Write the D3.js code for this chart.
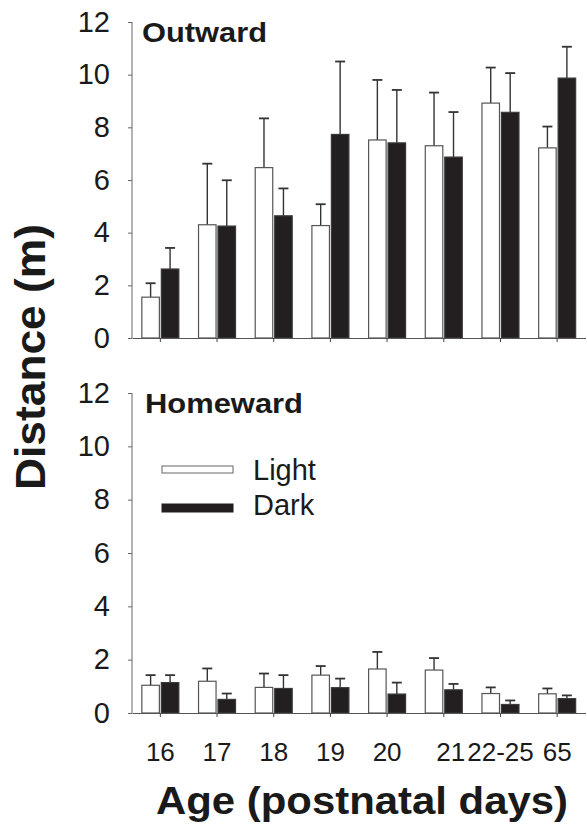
<!DOCTYPE html>
<html>
<head>
<meta charset="utf-8">
<script src="https://cdn.jsdelivr.net/npm/d3@7"></script>
<style>
	body { margin: 0; background: #fff; }
	svg { display: block; font-family: Arial, "Liberation Sans", sans-serif; }
</style>
</head>
<body>
<svg width="587" height="826"></svg>
<script>
var ages = ["16", "17", "18", "19", "20", "21", "22-25", "65"];
var conditions = ["Light", "Dark"];
var yTicks = [0, 2, 4, 6, 8, 10, 12];

// means and SE (upper error bar), metres
var outwardLight = [1.55, 4.30, 6.47, 4.27, 7.52, 7.30, 8.92, 7.22];
var outwardLightSE = [0.53, 2.32, 1.87, 0.81, 2.28, 2.02, 1.35, 0.81];
var outwardDark = [2.62, 4.25, 4.64, 7.73, 7.41, 6.87, 8.57, 9.87];
var outwardDarkSE = [0.80, 1.74, 1.04, 2.77, 2.01, 1.71, 1.49, 1.19];

var homewardLight = [1.04, 1.19, 0.96, 1.42, 1.65, 1.61, 0.73, 0.72];
var homewardLightSE = [0.38, 0.48, 0.52, 0.34, 0.64, 0.45, 0.23, 0.20];
var homewardDark = [1.14, 0.51, 0.92, 0.95, 0.71, 0.87, 0.32, 0.54];
var homewardDarkSE = [0.28, 0.22, 0.50, 0.34, 0.43, 0.22, 0.15, 0.12];

function drawChart() {
	var svg = d3.select("svg");
	var darkFill = "#231f20";

	var x = d3.scaleBand().domain(ages).range([132, 585.5]);
	var xSub = d3.scaleBand().domain(conditions).range([-18.5, 18.5]).paddingInner(0.1);

	var panels = [
		{ name: "Outward", light: outwardLight, lightSE: outwardLightSE, dark: outwardDark, darkSE: outwardDarkSE, top: 22, bottom: 338, titleX: 142, titleY: 42, titleW: 125 },
		{ name: "Homeward", light: homewardLight, lightSE: homewardLightSE, dark: homewardDark, darkSE: homewardDarkSE, top: 393, bottom: 713, titleX: 145, titleY: 413, titleW: 158 }
	];

	panels.forEach(function(p, pi) {
		var y = d3.scaleLinear().domain([0, 12]).range([p.bottom, p.top]);

		var rows = ages.map(function(a, i) {
			return [
				{ age: a, cond: "Light", v: p.light[i], se: p.lightSE[i] },
				{ age: a, cond: "Dark", v: p.dark[i], se: p.darkSE[i] }
			];
		}).flat();

		var g = svg.append("g");

		// error bars (upper only)
		var err = g.selectAll(".err")
			.data(rows)
			.enter().append("g")
			.attr("class", "err")
			.attr("stroke", "#333")
			.attr("stroke-width", 1.4);
		err.append("line")
			.attr("x1", function(d) { return x(d.age) + x.bandwidth() / 2 + xSub(d.cond) + xSub.bandwidth() / 2; })
			.attr("x2", function(d) { return x(d.age) + x.bandwidth() / 2 + xSub(d.cond) + xSub.bandwidth() / 2; })
			.attr("y1", function(d) { return y(d.v); })
			.attr("y2", function(d) { return y(d.v + d.se); });
		err.append("line")
			.attr("x1", function(d) { return x(d.age) + x.bandwidth() / 2 + xSub(d.cond) + xSub.bandwidth() / 2 - 5; })
			.attr("x2", function(d) { return x(d.age) + x.bandwidth() / 2 + xSub(d.cond) + xSub.bandwidth() / 2 + 5; })
			.attr("y1", function(d) { return y(d.v + d.se); })
			.attr("y2", function(d) { return y(d.v + d.se); })
			.attr("stroke-width", 1.8);

		g.selectAll(".bar")
			.data(rows)
			.enter().append("rect")
			.attr("class", "bar")
			.attr("x", function(d) { return x(d.age) + x.bandwidth() / 2 + xSub(d.cond); })
			.attr("width", xSub.bandwidth())
			.attr("y", function(d) { return y(d.v); })
			.attr("height", function(d) { return y(0) - y(d.v); })
			.attr("fill", function(d) { return d.cond == "Light" ? "#fff" : darkFill; })
			.attr("stroke", function(d) { return d.cond == "Light" ? "#555" : "#3a3a3a"; })
			.attr("stroke-width", 1.2);

		var yAxis = g.append("g")
			.attr("transform", "translate(132,0)")
			.call(d3.axisLeft(y).tickValues(yTicks).tickSize(4).tickPadding(18));
		yAxis.select(".domain").attr("stroke", "#666").attr("d", "M0," + p.bottom + "V" + p.top);
		yAxis.selectAll(".tick line").attr("stroke", "#666");
		yAxis.selectAll(".tick text")
			.attr("fill", "#1a1a1a")
			.style("font-size", "29px");

		var xAxis = g.append("g")
			.attr("transform", "translate(0," + p.bottom + ")")
			.call(d3.axisBottom(x).tickSize(4).tickSizeOuter(0).tickPadding(26));
		xAxis.select(".domain").attr("stroke", "#555");
		xAxis.selectAll(".tick line").attr("stroke", "#444");
		if (pi == 0) {
			xAxis.selectAll(".tick text").remove();
		} else {
			xAxis.selectAll(".tick text")
				.attr("fill", "#1a1a1a")
				.attr("dx", function(d) { return d == "21" ? 7 : 0; })
				.style("font-size", "26px");
		}

		g.append("text")
			.attr("x", p.titleX)
			.attr("y", p.titleY)
			.attr("textLength", p.titleW)
			.attr("lengthAdjust", "spacingAndGlyphs")
			.attr("fill", "#1a1a1a")
			.style("font-size", "28px")
			.style("font-weight", "bold")
			.text(p.name);
	});

	// legend
	var legend = svg.append("g").attr("transform", "translate(162,466)");
	legend.selectAll("rect")
		.data(conditions)
		.enter().append("rect")
		.attr("x", 0)
		.attr("y", function(d, i) { return i * 38; })
		.attr("width", 71)
		.attr("height", function(d, i) { return i == 0 ? 7 : 8; })
		.attr("fill", function(d) { return d == "Light" ? "#fff" : darkFill; })
		.attr("stroke", function(d) { return d == "Light" ? "#666" : darkFill; })
		.attr("stroke-width", 1);
	legend.selectAll("text")
		.data(conditions)
		.enter().append("text")
		.attr("x", 91)
		.attr("y", function(d, i) { return 14 + i * 35; })
		.attr("fill", "#1a1a1a")
		.style("font-size", "29px")
		.text(function(d) { return d; });

	svg.append("text")
		.attr("transform", "translate(45,357) rotate(-90)")
		.attr("text-anchor", "middle")
		.attr("textLength", 266)
		.attr("lengthAdjust", "spacingAndGlyphs")
		.attr("fill", "#1a1a1a")
		.style("font-size", "43px")
		.style("font-weight", "bold")
		.text("Distance (m)");

	svg.append("text")
		.attr("x", 362)
		.attr("y", 814)
		.attr("text-anchor", "middle")
		.attr("textLength", 412)
		.attr("lengthAdjust", "spacingAndGlyphs")
		.attr("fill", "#1a1a1a")
		.style("font-size", "39px")
		.style("font-weight", "bold")
		.text("Age (postnatal days)");
}

drawChart();
</script>
</body>
</html>
